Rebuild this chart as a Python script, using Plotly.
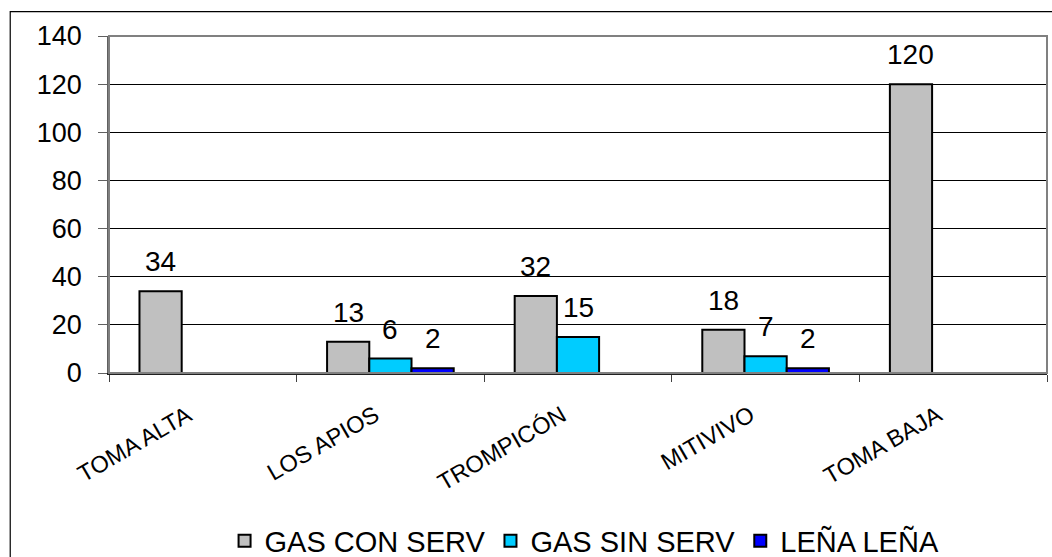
import plotly.graph_objects as go

categories = ["TOMA ALTA", "LOS APIOS", "TROMPICÓN", "MITIVIVO", "TOMA BAJA"]
series_names = ["GAS CON SERV", "GAS SIN SERV", "LEÑA LEÑA"]
gas_con_serv = [34, 13, 32, 18, 120]
gas_sin_serv = [0, 6, 15, 7, 0]
lena = [0, 2, 0, 2, 0]
y_ticks = [0, 20, 40, 60, 80, 100, 120, 140]

series_values = [gas_con_serv, gas_sin_serv, lena]
colors = ["#C0C0C0", "#00CCFF", "#0000FF"]
FONT = "Liberation Sans, Arial, sans-serif"
BARGAP = 0.325

fig = go.Figure()
for name, vals, col in zip(series_names, series_values, colors):
    fig.add_trace(go.Bar(
        x=categories, y=vals, name=name,
        marker=dict(color=col, line=dict(color="black", width=2)),
    ))

# data labels (only non-zero values)
w = (1 - BARGAP) / 3
annotations = []
for j, vals in enumerate(series_values):
    for i, v in enumerate(vals):
        if v > 0:
            annotations.append(dict(
                x=i + (j - 1) * w, y=v, xref="x", yref="y",
                text=str(v), showarrow=False, yanchor="bottom", yshift=12,
                font=dict(family=FONT, size=28, color="black"),
            ))

# rotated category labels
for i, cat in enumerate(categories):
    annotations.append(dict(
        x=i, y=0, xref="x", yref="y", text=cat, showarrow=False,
        textangle=-30, xanchor="right", yanchor="top", xshift=-4, yshift=-25,
        font=dict(family=FONT, size=23.5, color="black"),
    ))

fig.update_layout(
    width=1052, height=557,
    margin=dict(l=108.5, r=5, t=36, b=184, autoexpand=False),
    paper_bgcolor="white", plot_bgcolor="white",
    barmode="group", bargap=BARGAP, bargroupgap=0,
    font=dict(family=FONT, color="black"),
    annotations=annotations,
    showlegend=True,
    legend=dict(
        orientation="h", x=0.507, xanchor="center", y=-0.498, yanchor="middle",
        font=dict(family=FONT, size=29, color="black"),
        bgcolor="rgba(0,0,0,0)", traceorder="normal",
    ),
    shapes=[
        # outer chart border
        dict(type="rect", xref="paper", yref="paper", x0=-0.1053, x1=1.05, y0=-0.7, y1=1.0721,
             line=dict(color="black", width=1.2), fillcolor="rgba(0,0,0,0)", layer="below"),
        # plot area border
        dict(type="rect", xref="paper", yref="paper", x0=0, x1=1, y0=0, y1=1,
             line=dict(color="#808080", width=2), fillcolor="rgba(0,0,0,0)", layer="above"),
    ],
)

fig.update_xaxes(
    type="category", categoryorder="array", categoryarray=categories,
    range=[-0.5, 4.5], showticklabels=False,
    ticks="outside", tickson="boundaries", ticklen=7, tickcolor="#404040", tickwidth=1,
    showline=True, linecolor="#202020", linewidth=1.5,
    showgrid=False,
)
fig.update_yaxes(
    range=[0, 140], tickvals=y_ticks,
    tickfont=dict(family=FONT, size=27, color="black"),
    ticks="outside", ticklen=9, tickcolor="#606060", tickwidth=1,
    showline=True, linecolor="#606060", linewidth=1.5,
    showgrid=True, gridcolor="black", gridwidth=1,
    zeroline=False, ticklabelstandoff=11,
)

fig.write_html(
    "out.html",
    config={"displayModeBar": False},
    post_script="document.body.style.margin='0';document.body.style.overflow='hidden';",
)
